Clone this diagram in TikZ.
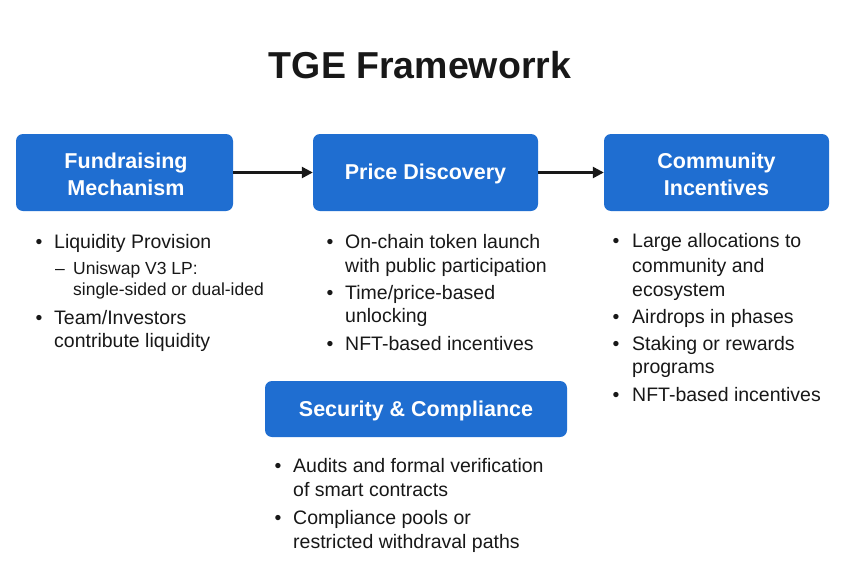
\documentclass[tikz,border=0pt]{standalone}
\usepackage{fontspec}
\setmainfont{Liberation Sans}
\usetikzlibrary{arrows.meta}
\definecolor{boxblue}{RGB}{31,110,209}
\definecolor{ink}{RGB}{24,24,24}
\begin{document}
\begin{tikzpicture}[x=1pt,y=-1pt,
  box/.style={fill=boxblue, rounded corners=7pt, inner sep=0pt},
  boxtext/.style={text=white, align=center, inner sep=0pt,
    font=\fontsize{21.5}{27}\selectfont\bfseries},
  item/.style={anchor=base west, inner sep=0pt, text=ink, font=\fontsize{19.5}{24}\selectfont},
  subitem/.style={anchor=base west, inner sep=0pt, text=ink, font=\fontsize{17.5}{22}\selectfont},
  dot/.style={anchor=base, inner sep=0pt, text=ink, font=\fontsize{19.5}{24}\selectfont},
  flow/.style={line width=2.4pt, draw=ink, -{Triangle[length=11pt,width=11pt]}}]
\useasboundingbox (0,0) rectangle (860,573);
\fill[white] (0,0) rectangle (860,573);

\node[anchor=base, inner sep=0pt, text=ink, font=\fontsize{37.5}{42}\selectfont\bfseries] (title) at (420,78) {TGE Frameworrk};

% boxes
\node[box, minimum width=217pt, minimum height=77pt] (fund) at (124.5,172.5) {};
\node[box, minimum width=225pt, minimum height=77pt] (price) at (425.5,172.5) {};
\node[box, minimum width=225pt, minimum height=77pt] (comm) at (716.5,172.5) {};
\node[box, minimum width=302pt, minimum height=56pt] (sec) at (416,409) {};

\node[boxtext] (fundtxt) at ([xshift=1.5pt,yshift=-1.5pt]fund.center) {Fundraising\\Mechanism};
\node[boxtext] (pricetxt) at ([yshift=-1.5pt]price.center) {Price Discovery};
\node[boxtext] (commtxt) at ([yshift=-1.5pt]comm.center) {Community\\Incentives};
\node[boxtext] (sectxt) at ([yshift=-2pt]sec.center) {Security \& Compliance};

% arrows
\draw[flow] (fund.east) -- (price.west);
\draw[flow] (price.east) -- (comm.west);

% column 1
\node[dot] (b11) at (39,248) {•};
\node[item] (t11) at (54,248) {Liquidity Provision};
\node[subitem] (d11) at (55,274) {–};
\node[subitem] (t12) at (73,274) {Uniswap V3 LP:};
\node[subitem] (t13) at (73,295) {single-sided or dual-ided};
\node[dot] (b12) at (39,324) {•};
\node[item] (t14) at (54,324) {Team/Investors};
\node[item] (t15) at (54,347) {contribute liquidity};

% column 2
\node[dot] (b21) at (330,248) {•};
\node[item] (t21) at (345,248) {On-chain token launch};
\node[item] (t22) at (345,272) {with public participation};
\node[dot] (b22) at (330,299) {•};
\node[item] (t23) at (345,299) {Time/price-based};
\node[item] (t24) at (345,322) {unlocking};
\node[dot] (b23) at (330,350) {•};
\node[item] (t25) at (345,350) {NFT-based incentives};

% column 3
\node[dot] (b31) at (616,247) {•};
\node[item] (t31) at (632,247) {Large allocations to};
\node[item] (t32) at (632,272) {community and};
\node[item] (t33) at (632,296) {ecosystem};
\node[dot] (b32) at (616,323) {•};
\node[item] (t34) at (632,323) {Airdrops in phases};
\node[dot] (b33) at (616,350) {•};
\node[item] (t35) at (632,350) {Staking or rewards};
\node[item] (t36) at (632,373) {programs};
\node[dot] (b34) at (616,401) {•};
\node[item] (t37) at (632,401) {NFT-based incentives};

% column 4
\node[dot] (b41) at (278,472) {•};
\node[item] (t41) at (293,472) {Audits and formal verification};
\node[item] (t42) at (293,496) {of smart contracts};
\node[dot] (b42) at (278,524) {•};
\node[item] (t43) at (293,524) {Compliance pools or};
\node[item] (t44) at (293,548) {restricted withdraval paths};
\end{tikzpicture}
\end{document}
